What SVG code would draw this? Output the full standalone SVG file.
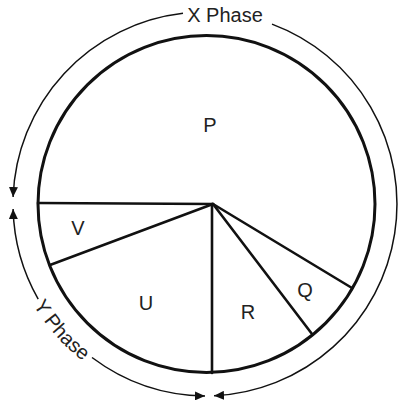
<svg xmlns="http://www.w3.org/2000/svg" width="399" height="407" viewBox="0 0 399 407">
<style>
.lbl{font-family:"Liberation Sans",Arial,sans-serif;font-size:20px;fill:#222;text-anchor:middle}
.thick{fill:none;stroke:#111;stroke-width:3}
.spoke{fill:none;stroke:#111;stroke-width:2.6;stroke-linecap:round}
.thin{fill:none;stroke:#111;stroke-width:1.5}
</style>
<defs>
<marker id="ah" markerUnits="userSpaceOnUse" markerWidth="10" markerHeight="9" refX="10" refY="4.5" orient="auto-start-reverse">
<path d="M0,0 L10,4.5 L0,9 z" fill="#111"/>
</marker>
<path id="ypath" d="M 22.1,282.8 A 199 199 0 0 0 103.5,375.0"/>
</defs>
<rect width="399" height="407" fill="#fff"/>
<g id="circle">
<circle class="thick" cx="206.5" cy="204" r="168.5"/>
</g>
<g id="connectors">
<line class="spoke" x1="213" y1="204" x2="38" y2="203"/>
<line class="spoke" x1="213" y1="204" x2="50" y2="265"/>
<line class="spoke" x1="212" y1="204" x2="212" y2="373"/>
<line class="spoke" x1="213" y1="204" x2="312" y2="334"/>
<line class="spoke" x1="213" y1="204" x2="352" y2="288"/>
<path class="thin" d="M 183,13.3 A 192 192 0 0 0 13.1,197" marker-end="url(#ah)"/>
<path class="thin" d="M 272,24.1 A 192 192 0 0 1 214,395.8" marker-end="url(#ah)"/>
<path class="thin" d="M 13.1,209 A 192 192 0 0 0 38.2,299.1" marker-start="url(#ah)"/>
<path class="thin" d="M 92,357.5 A 192 192 0 0 0 205,396" marker-end="url(#ah)"/>
</g>
<g id="label-x"><text class="lbl" x="225" y="22">X Phase</text></g>
<g id="label-y"><text class="lbl" style="text-anchor:middle"><textPath href="#ypath" startOffset="50%">Y Phase</textPath></text></g>
<g id="node-P"><text class="lbl" x="210" y="132">P</text></g>
<g id="node-V"><text class="lbl" x="78" y="235">V</text></g>
<g id="node-U"><text class="lbl" x="146" y="310">U</text></g>
<g id="node-R"><text class="lbl" x="248" y="319">R</text></g>
<g id="node-Q"><text class="lbl" x="305" y="297">Q</text></g>
</svg>
